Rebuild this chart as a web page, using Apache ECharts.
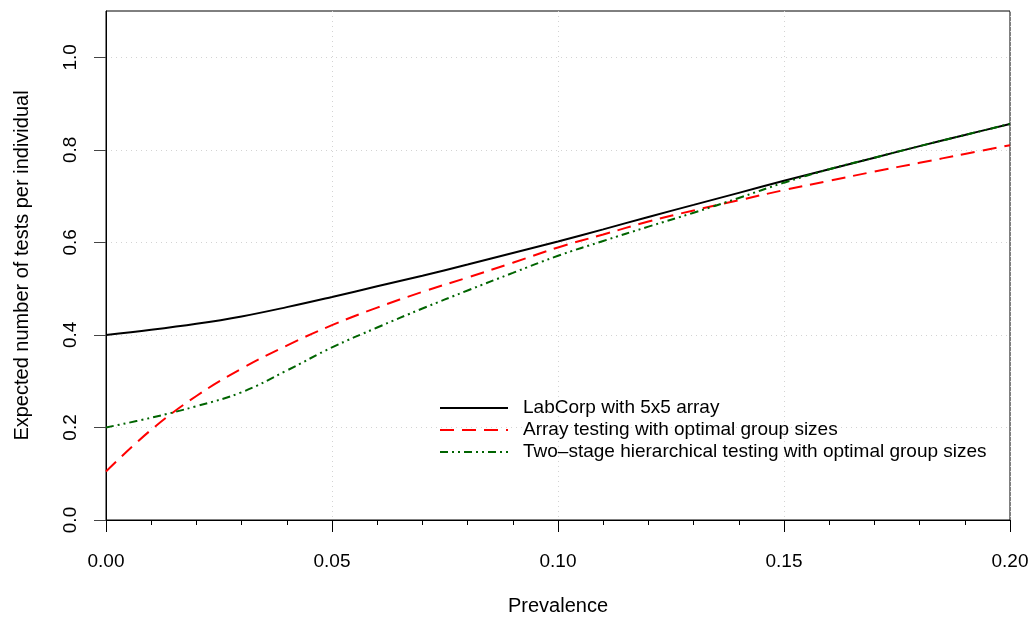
<!DOCTYPE html>
<html>
<head>
<meta charset="utf-8">
<script src="https://cdn.jsdelivr.net/npm/echarts@6/dist/echarts.min.js"></script>
<style>
	html, body { margin: 0; padding: 0; background: #fff; }
	#chart { width: 1032px; height: 621px; }
</style>
</head>
<body>
<div id="chart"></div>
<script>
	// prevalence values (x) and the three curves
	let prevalence = [0, 0.01, 0.02, 0.03, 0.04, 0.05, 0.06, 0.07, 0.08, 0.09, 0.10,
		0.11, 0.12, 0.13, 0.14, 0.15, 0.16, 0.17, 0.18, 0.19, 0.20];
	let labcorp = [0.400, 0.411, 0.424, 0.440, 0.460, 0.482, 0.505, 0.528, 0.552, 0.577, 0.602,
		0.628, 0.655, 0.681, 0.707, 0.733, 0.758, 0.783, 0.808, 0.832, 0.856];
	let arrayOpt = [0.105, 0.195, 0.268, 0.327, 0.377, 0.421, 0.459, 0.493, 0.524, 0.556, 0.589,
		0.617, 0.645, 0.669, 0.691, 0.713, 0.733, 0.753, 0.772, 0.791, 0.810];
	let hierOpt = [0.200, 0.221, 0.246, 0.276, 0.323, 0.373, 0.416, 0.457, 0.496, 0.534, 0.571,
		0.603, 0.634, 0.664, 0.696, 0.729, 0.758, 0.783, 0.808, 0.832, 0.856];

	let xTicks = [0, 0.05, 0.10, 0.15, 0.20];
	let yTicks = [0, 0.2, 0.4, 0.6, 0.8, 1.0];

	let font = 'Liberation Sans, Arial, Helvetica, sans-serif';

	let dataList = [{
			name: 'LabCorp with 5x5 array',
			values: labcorp,
			color: '#000000',
			type: 'solid'
		},
		{
			name: 'Array testing with optimal group sizes',
			values: arrayOpt,
			color: '#ff0000',
			type: [14, 8]
		},
		{
			name: 'Two\u2013stage hierarchical testing with optimal group sizes',
			values: hierOpt,
			color: '#006400',
			type: [8, 4, 2, 4, 2, 4]
		},
	];

	let series = dataList.map(item => ({
		type: 'line',
		name: item.name,
		data: prevalence.map((p, i) => [p, item.values[i]]),
		showSymbol: false,
		symbol: 'none',
		smooth: 0.4,
		silent: true,
		color: item.color,
		lineStyle: {
			color: item.color,
			width: 2,
			type: item.type
		}
	}));

	let option = {
		animation: false,
		textStyle: { fontFamily: font },
		grid: {
			show: true,
			left: 106,
			right: 22,
			top: 11,
			bottom: 97,
			borderColor: '#000',
			borderWidth: 1,
			containLabel: false
		},
		legend: {
			orient: 'vertical',
			left: 434,
			top: 392,
			itemWidth: 68,
			itemHeight: 10,
			itemGap: 0,
			selectedMode: false,
			itemStyle: { opacity: 0 },
			textStyle: {
				color: '#000',
				fontSize: 19,
				fontFamily: font,
				lineHeight: 22,
				padding: [0, 0, 0, 10]
			},
			data: dataList.map(d => d.name)
		},
		xAxis: {
			type: 'value',
			min: 0,
			max: 0.2,
			interval: 0.05,
			name: 'Prevalence',
			nameLocation: 'middle',
			nameGap: 76,
			nameTextStyle: { color: '#000', fontSize: 20, fontFamily: font },
			axisLine: { show: true, lineStyle: { color: '#000', width: 1 } },
			axisTick: { show: true, length: 12, lineStyle: { color: '#000' } },
			minorTick: { show: true, splitNumber: 5, length: 5, lineStyle: { color: '#000' } },
			axisLabel: {
				color: '#000',
				fontSize: 19,
				margin: 32,
				customValues: xTicks,
				formatter: v => v.toFixed(2)
			},
			splitLine: {
				show: true,
				lineStyle: { color: '#d3d3d3', type: [1, 4], width: 1 }
			}
		},
		yAxis: {
			type: 'value',
			min: 0,
			max: 1.1,
			interval: 0.2,
			name: 'Expected number of tests per individual',
			nameLocation: 'middle',
			nameGap: 74,
			nameTextStyle: { color: '#000', fontSize: 20, fontFamily: font },
			axisLine: { show: true, lineStyle: { color: '#000', width: 1 } },
			axisTick: { show: true, length: 12, customValues: yTicks, lineStyle: { color: '#444' } },
			axisLabel: {
				color: '#000',
				fontSize: 19,
				rotate: 90,
				margin: 26,
				customValues: yTicks,
				formatter: v => v.toFixed(1)
			},
			splitLine: {
				show: true,
				lineStyle: { color: '#d3d3d3', type: [1, 4], width: 1 }
			}
		},
		series: series
	};

	let chart = echarts.init(document.getElementById('chart'));
	chart.setOption(option);
	window.addEventListener('resize', function () {
		chart.resize();
	});
</script>
</body>
</html>
